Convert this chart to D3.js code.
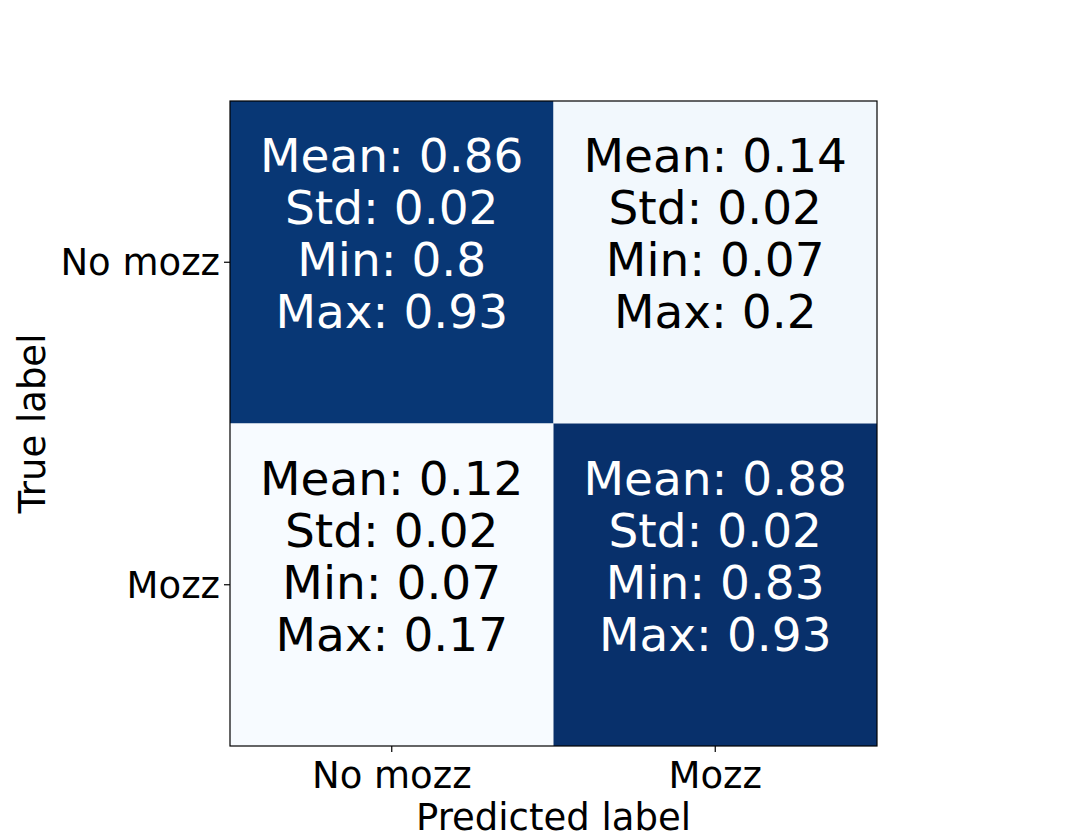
<!DOCTYPE html>
<html>
<head>
<meta charset="utf-8">
<script src="https://cdn.jsdelivr.net/npm/d3@7"></script>
<style>
  html, body { margin: 0; padding: 0; background: #fff; }
  svg { display: block; font-family: "DejaVu Sans", sans-serif; }
</style>
</head>
<body>
<div id="chart"></div>
<script>
// Confusion matrix stats (rows = true label, cols = predicted label)
const labels = ['No mozz', 'Mozz'];
const meanVals = [[0.86, 0.14], [0.12, 0.88]];
const stdVals  = [[0.02, 0.02], [0.02, 0.02]];
const minVals  = [[0.8, 0.07], [0.07, 0.83]];
const maxVals  = [[0.93, 0.2], [0.17, 0.93]];

const W = 1080, H = 840;
const margin = { top: 101, right: 203, bottom: 94, left: 230 };
const iw = W - margin.left - margin.right;
const ih = H - margin.top - margin.bottom;

const svg = d3.select('#chart').append('svg')
  .attr('width', W).attr('height', H);

const g = svg.append('g').attr('transform', `translate(${margin.left},${margin.top})`);

const x = d3.scaleBand().domain(labels).range([0, iw]);
const y = d3.scaleBand().domain(labels).range([0, ih]);

const flat = meanVals.flat();
const lo = d3.min(flat), hi = d3.max(flat);
const color = d3.scaleSequential(d3.interpolateBlues).domain([lo, hi]);
const thresh = (lo + hi) / 2;

const cells = [];
labels.forEach((t, i) => labels.forEach((p, j) => cells.push({
  t, p, mean: meanVals[i][j], std: stdVals[i][j], min: minVals[i][j], max: maxVals[i][j]
})));

g.selectAll('rect.cell')
  .data(cells)
  .enter().append('rect')
  .attr('class', 'cell')
  .attr('x', d => x(d.p))
  .attr('y', d => y(d.t))
  .attr('width', x.bandwidth())
  .attr('height', y.bandwidth())
  .attr('fill', d => color(d.mean));

// cell text, 4 lines
const lineH = 52;
const txt = g.selectAll('text.cellLabel')
  .data(cells)
  .enter().append('text')
  .attr('class', 'cellLabel')
  .attr('text-anchor', 'middle')
  .attr('font-size', 47)
  .attr('fill', d => d.mean > thresh ? '#fff' : '#000');

txt.each(function(d) {
  const lines = [
    'Mean: ' + d.mean,
    'Std: ' + d.std,
    'Min: ' + d.min,
    'Max: ' + d.max
  ];
  const el = d3.select(this);
  lines.forEach((s, k) => {
    el.append('tspan')
      .attr('x', x(d.p) + x.bandwidth() / 2)
      .attr('y', y(d.t) + 71 + k * lineH)
      .text(s);
  });
});

// axes
const xAxis = g.append('g')
  .attr('transform', `translate(0,${ih})`)
  .call(d3.axisBottom(x).tickSize(6).tickPadding(5));
const yAxis = g.append('g')
  .call(d3.axisLeft(y).tickSize(6).tickPadding(4));

[xAxis, yAxis].forEach(a => {
  a.select('.domain').remove();
  a.selectAll('.tick line').attr('stroke', '#000').attr('stroke-width', 1.2);
  a.selectAll('.tick text')
    .attr('font-size', 37)
    .attr('font-family', '"DejaVu Sans", sans-serif')
    .attr('fill', '#000');
});
yAxis.selectAll('.tick text').attr('dy', '0.35em');
xAxis.selectAll('.tick text').attr('dy', '0.85em');

// frame
g.append('rect')
  .attr('width', iw).attr('height', ih)
  .attr('fill', 'none')
  .attr('stroke', '#000').attr('stroke-width', 1.2);

// axis titles
svg.append('text')
  .attr('x', margin.left + iw / 2)
  .attr('y', 830)
  .attr('text-anchor', 'middle')
  .attr('font-size', 37)
  .text('Predicted label');

svg.append('text')
  .attr('transform', `translate(45,${margin.top + ih / 2}) rotate(-90)`)
  .attr('text-anchor', 'middle')
  .attr('font-size', 37)
  .text('True label');
</script>
</body>
</html>
